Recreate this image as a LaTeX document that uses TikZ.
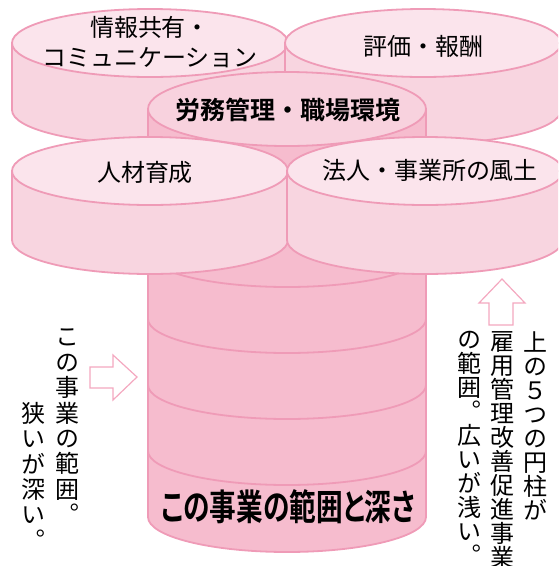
\documentclass[tikz,border=0pt]{standalone}
\usepackage{fontspec}
\newfontfamily\jp{Noto Sans CJK JP}[BoldFont={Noto Sans CJK JP Bold}]
\newfontfamily\jpv{Noto Sans CJK JP}[RawFeature=+vert]
\newfontfamily\jpp{Noto Sans CJK JP Bold}[RawFeature=+palt]
\definecolor{edge}{HTML}{EF9BB7}
\definecolor{topfill}{HTML}{FBE4EC}
\definecolor{sidefill}{HTML}{F8D5E0}
\definecolor{tallfill}{HTML}{F6BCCE}
\definecolor{midtop}{HTML}{F8D2DE}
\definecolor{arrowedge}{HTML}{F4A8C0}
\tikzset{
  cyl/.style={draw=edge, line width=1.8pt},
  band/.style={draw=edge, line width=1.8pt},
  label/.style={inner sep=0pt, font=\fontsize{24}{30}\jp, align=center},
  blabel/.style={inner sep=0pt, font=\fontsize{25}{30}\jp\bfseries, align=center},
  vlabel/.style={inner sep=0pt, anchor=north, align=center},
  hollowarrow/.style={draw=arrowedge, line width=1.2pt, fill=white, line join=miter}
}
\newcommand\smallcyl[5]{% cx cy rx ry h
  \path[cyl, fill=sidefill] (#1-#3,#2) -- (#1-#3,#2+#5) arc[start angle=180,end angle=0,x radius=#3,y radius=#4] -- (#1+#3,#2) -- cycle;
  \path[cyl, fill=topfill] (#1,#2) ellipse[x radius=#3, y radius=#4];
}
\begin{document}
\begin{tikzpicture}[x=1pt,y=-1pt]
\useasboundingbox (0,0) rectangle (558,566);
\begin{scope}
\clip (0,0) rectangle (558,566);
% back cylinders
\smallcyl{150}{43}{138}{34}{67}
\smallcyl{423}{43}{138}{34}{67}
% tall cylinder
\path[cyl, fill=tallfill] (148,109) -- (148,517) arc[start angle=180,end angle=0,x radius=139,y radius=35] -- (426,109) -- cycle;
\draw[band] (148,253) arc[start angle=180,end angle=0,x radius=139,y radius=34];
\draw[band] (148,319) arc[start angle=180,end angle=0,x radius=139,y radius=34];
\draw[band] (148,385) arc[start angle=180,end angle=0,x radius=139,y radius=34];
\draw[band] (148,451) arc[start angle=180,end angle=0,x radius=139,y radius=34];
\path[cyl, fill=midtop] (287,109) ellipse[x radius=139, y radius=37];
% front cylinders
\smallcyl{150}{171}{138}{34}{69}
\smallcyl{425}{171}{138}{34}{69}
\end{scope}
% labels
\node[label] (info) at (150,42) {情報共有・\\コミュニケーション};
\node[label] (eval) at (423,46) {評価・報酬};
\node[blabel] (labor) at (288,110) {労務管理・職場環境};
\node[label] (hr) at (145,172) {人材育成};
\node[label] (corp) at (430,170) {法人・事業所の風土};
\node[inner sep=0pt, font=\fontsize{36}{40}\jpp, xscale=0.74] (depth) at (288,507) {この事業の範囲と深さ};
% vertical texts
\node[vlabel, font=\fontsize{24}{25.4}\jpv] (scope) at (67,329) {こ\\の\\事\\業\\の\\範\\囲\\。};
\node[vlabel, font=\fontsize{24}{25.4}\jpv] (narrow) at (33,402) {狭\\い\\が\\深\\い\\。};
\node[vlabel, font=\fontsize{24}{24}\jpv] (five) at (535,331) {上\\の\\５\\つ\\の\\円\\柱\\が};
\node[vlabel, font=\fontsize{24}{24}\jpv] (project) at (502,331) {雇\\用\\管\\理\\改\\善\\促\\進\\事\\業};
\node[vlabel, font=\fontsize{24}{24}\jpv] (wide) at (469,331) {の\\範\\囲\\。\\広\\い\\が\\浅\\い\\。};
% hollow arrows
\draw[hollowarrow] (90,367) -- (113,367) -- (113,355) -- (137,377) -- (113,400) -- (113,388) -- (90,388) -- cycle;
\draw[hollowarrow] (489,325) -- (489,303) -- (479,303) -- (502,279) -- (525,303) -- (513,303) -- (513,325) -- cycle;
\end{tikzpicture}
\end{document}
